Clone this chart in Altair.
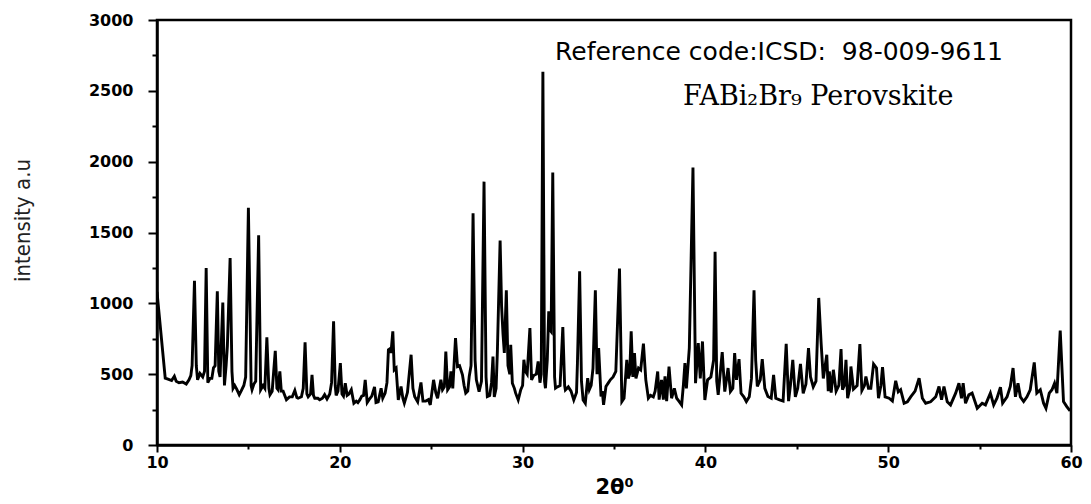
import altair as alt
import pandas as pd

two_theta = [
    10.00, 10.45, 10.60, 10.80, 10.95, 11.05, 11.20, 11.40, 11.60, 11.75, 11.85, 11.92,
    12.05, 12.15, 12.22, 12.35, 12.50, 12.60, 12.69, 12.78, 12.90, 13.00, 13.09, 13.18,
    13.30, 13.38, 13.45, 13.60, 13.69, 13.78, 13.85, 14.00, 14.10, 14.16, 14.25, 14.36,
    14.50, 14.60, 14.75, 14.85, 15.00, 15.15, 15.20, 15.30, 15.40, 15.56, 15.67, 15.80,
    15.90, 16.01, 16.12, 16.18, 16.30, 16.47, 16.56, 16.62, 16.72, 16.80, 16.90, 17.08,
    17.25, 17.40, 17.54, 17.65, 17.72, 17.90, 18.00, 18.10, 18.20, 18.27, 18.40, 18.48,
    18.56, 18.63, 18.80, 18.90, 19.05, 19.17, 19.30, 19.45, 19.55, 19.66, 19.75, 19.80,
    19.90, 20.03, 20.12, 20.20, 20.30, 20.40, 20.50, 20.63, 20.77, 20.90, 20.99, 21.10,
    21.20, 21.30, 21.39, 21.50, 21.60, 21.75, 21.90, 21.98, 22.10, 22.26, 22.35, 22.48,
    22.58, 22.66, 22.75, 22.80, 22.90, 22.98, 23.08, 23.20, 23.35, 23.45, 23.53, 23.70,
    23.90, 24.00, 24.10, 24.26, 24.44, 24.55, 24.70, 24.85, 24.95, 25.13, 25.25, 25.35,
    25.53, 25.62, 25.72, 25.80, 25.90, 26.00, 26.08, 26.18, 26.33, 26.44, 26.55, 26.71,
    26.80, 26.89, 27.00, 27.08, 27.18, 27.29, 27.40, 27.47, 27.62, 27.75, 27.89, 28.00,
    28.07, 28.20, 28.30, 28.38, 28.45, 28.55, 28.62, 28.77, 28.85, 28.93, 29.00, 29.11,
    29.20, 29.30, 29.35, 29.44, 29.55, 29.62, 29.76, 29.90, 30.00, 30.07, 30.15, 30.25,
    30.40, 30.49, 30.60, 30.75, 30.85, 30.95, 31.02, 31.11, 31.20, 31.25, 31.35, 31.43,
    31.50, 31.56, 31.65, 31.75, 31.80, 31.90, 32.05, 32.20, 32.30, 32.34, 32.50, 32.65,
    32.80, 32.95, 33.00, 33.12, 33.22, 33.31, 33.43, 33.56, 33.65, 33.75, 33.85, 33.98,
    34.07, 34.16, 34.29, 34.36, 34.43, 34.56, 34.70, 34.80, 34.95, 35.10, 35.30, 35.43,
    35.55, 35.70, 35.78, 35.86, 35.94, 36.03, 36.12, 36.20, 36.34, 36.46, 36.61, 36.74,
    36.88, 37.00, 37.15, 37.25, 37.39, 37.47, 37.60, 37.70, 37.79, 37.88, 38.01, 38.15,
    38.30, 38.43, 38.55, 38.70, 38.80, 38.88, 38.96, 39.12, 39.32, 39.46, 39.61, 39.72,
    39.84, 39.97, 40.12, 40.30, 40.45, 40.53, 40.62, 40.70, 40.92, 41.06, 41.24, 41.37,
    41.50, 41.60, 41.70, 41.84, 41.95, 42.10, 42.24, 42.40, 42.52, 42.66, 42.75, 42.84,
    43.00, 43.11, 43.25, 43.42, 43.60, 43.73, 43.85, 44.06, 44.25, 44.42, 44.55, 44.65,
    44.78, 44.92, 45.05, 45.20, 45.35, 45.50, 45.64, 45.75, 45.90, 46.05, 46.20, 46.33,
    46.45, 46.64, 46.72, 46.78, 46.88, 47.00, 47.15, 47.30, 47.42, 47.50, 47.60, 47.69,
    47.78, 47.90, 47.96, 48.10, 48.30, 48.45, 48.56, 48.70, 48.78, 48.92, 49.05, 49.20,
    49.36, 49.47, 49.60, 49.69, 49.83, 50.05, 50.23, 50.41, 50.55, 50.68, 50.87, 51.05,
    51.23, 51.47, 51.69, 51.87, 52.05, 52.32, 52.60, 52.78, 52.92, 53.05, 53.23, 53.41,
    53.69, 53.87, 54.01, 54.10, 54.23, 54.41, 54.59, 54.87, 55.14, 55.32, 55.59, 55.77,
    55.95, 56.14, 56.26, 56.50, 56.68, 56.83, 56.96, 57.10, 57.23, 57.41, 57.59, 57.77,
    57.99, 58.13, 58.32, 58.50, 58.63, 58.81, 58.96, 59.10, 59.23, 59.41, 59.59, 59.77,
    59.95,
]

intensity = [
    1080, 472, 465, 455, 485, 450, 440, 445, 430, 460, 490, 560,
    1160, 560, 460, 505, 480, 520, 1250, 440, 470, 470, 545, 560,
    1085, 520, 480, 1005, 420, 560, 700, 1320, 520, 400, 420, 395,
    355, 380, 420, 480, 1675, 420, 390, 430, 450, 1480, 390, 420,
    400, 760, 400, 355, 380, 665, 400, 390, 520, 380, 380, 320,
    340, 340, 385, 335, 330, 340, 400, 725, 360, 340, 360, 495,
    350, 330, 330, 320, 330, 355, 325, 360, 440, 873, 420, 350,
    380, 578, 360, 345, 436, 350, 360, 390, 295, 310, 300, 320,
    345, 350, 460, 300, 320, 345, 410, 300, 305, 400, 330, 366,
    440, 672, 680, 650, 802, 530, 543, 318, 413, 330, 295, 370,
    637, 400, 340, 305, 441, 310, 310, 320, 283, 460, 370, 330,
    460, 390, 410, 660, 390, 410, 519, 400, 755, 554, 560, 495,
    420, 366, 380, 484, 560, 1635, 600, 460, 377, 450, 1859, 480,
    342, 350, 440, 625, 340, 400, 660, 1444, 980, 780, 650, 1092,
    560, 500, 708, 436, 400, 366, 318, 390, 420, 602, 520, 500,
    826, 460, 490, 500, 590, 440, 500, 2635, 450, 401, 600, 944,
    810, 800, 1923, 480, 401, 410, 420, 833, 420, 389, 410, 380,
    318, 370, 580, 1227, 450, 318, 295, 472, 390, 420, 540, 1092,
    500, 684, 342, 380, 283, 413, 440, 460, 480, 519, 1246, 307,
    330, 601, 470, 500, 802, 480, 649, 470, 543, 530, 715, 460,
    330, 350, 340, 380, 519, 320, 460, 320, 484, 310, 554, 330,
    400, 330, 310, 283, 430, 578, 400, 684, 1958, 436, 720, 470,
    731, 318, 460, 480, 600, 1364, 450, 354, 656, 377, 543, 377,
    400, 649, 460, 606, 365, 340, 307, 340, 470, 1092, 600, 413,
    460, 606, 400, 342, 330, 495, 330, 318, 310, 715, 310, 420,
    601, 340, 400, 573, 365, 430, 684, 480, 410, 450, 1038, 720,
    470, 637, 380, 519, 370, 531, 380, 420, 677, 390, 420, 601,
    330, 400, 554, 395, 420, 712, 385, 420, 484, 400, 400, 571,
    543, 330, 420, 550, 340, 330, 310, 453, 375, 390, 295, 305,
    340, 380, 472, 330, 295, 305, 340, 413, 320, 413, 305, 283,
    366, 436, 330, 436, 295, 354, 366, 259, 295, 283, 366, 283,
    330, 408, 295, 340, 413, 543, 340, 436, 340, 307, 340, 390,
    583, 366, 390, 295, 259, 366, 390, 436, 366, 807, 307, 271,
    240,
]

y_ticks = list(range(0, 3001, 250))
x_ticks = list(range(10, 61, 5))

ref_text = ["Reference code:ICSD:\u00a0\u00a098-009-9611"]
name_text = ["FABi\u2082Br\u2089 Perovskite"]

df = pd.DataFrame({"tt": two_theta, "I": intensity})

W, H = 914, 425

line = alt.Chart(df).mark_line(color="black", strokeWidth=2.9, clip=True).encode(
    x=alt.X(
        "tt:Q",
        scale=alt.Scale(domain=[10, 60], nice=False, zero=False),
        axis=alt.Axis(
            values=x_ticks,
            format="d",
            labelExpr="datum.value % 10 === 0 ? datum.label : ''",
            tickSize={"condition": {"test": "datum.value % 10 === 0", "value": 7}, "value": 4},
            labelPadding=2,
            labelFlush=False,
            title="2θ⁰",
            titleFont="DejaVu Sans",
            titleFontWeight="bold",
            titleFontSize=21,
            titleColor="black",
            titlePadding=6,
        ),
    ),
    y=alt.Y(
        "I:Q",
        scale=alt.Scale(domain=[0, 3000], nice=False),
        axis=alt.Axis(
            values=y_ticks,
            format="d",
            labelExpr="datum.value % 500 === 0 ? datum.label : ''",
            tickSize={"condition": {"test": "datum.value % 500 === 0", "value": 9}, "value": 5},
            labelPadding=15,
            labelFlush=False,
            title="intensity a.u",
            titleFont="Liberation Sans Narrow, DejaVu Sans Condensed, sans-serif",
            titleFontWeight="normal",
            titleFontSize=22,
            titleColor="#222222",
            titleX=-123,
            titleY=200,
            titleAngle=-90,
            titleBaseline="bottom",
            titleAlign="center",
        ),
    ),
)

ref = alt.Chart(pd.DataFrame({"t": ref_text})).mark_text(
    align="left", baseline="middle", font="DejaVu Sans", fontSize=25, color="black"
).encode(x=alt.value(398), y=alt.value(32), text="t:N")

name = alt.Chart(pd.DataFrame({"t": name_text})).mark_text(
    align="left", baseline="middle", font="DejaVu Serif", fontSize=27, color="black"
).encode(x=alt.value(526), y=alt.value(77), text="t:N")

chart = (
    alt.layer(line, ref, name)
    .properties(
        width=W,
        height=H,
        autosize="none",
        padding={"left": 149, "top": 12, "right": 12, "bottom": 57},
    )
    .configure_view(stroke="black", strokeWidth=2.5)
    .configure_axis(
        grid=False,
        domainColor="black",
        domainWidth=2.5,
        tickColor="black",
        tickWidth=2,
        labelFont="DejaVu Sans",
        labelFontWeight="bold",
        labelFontSize=16,
        labelColor="black",
    )
)

chart.save("out.html", embed_options={"renderer": "svg", "actions": False})
